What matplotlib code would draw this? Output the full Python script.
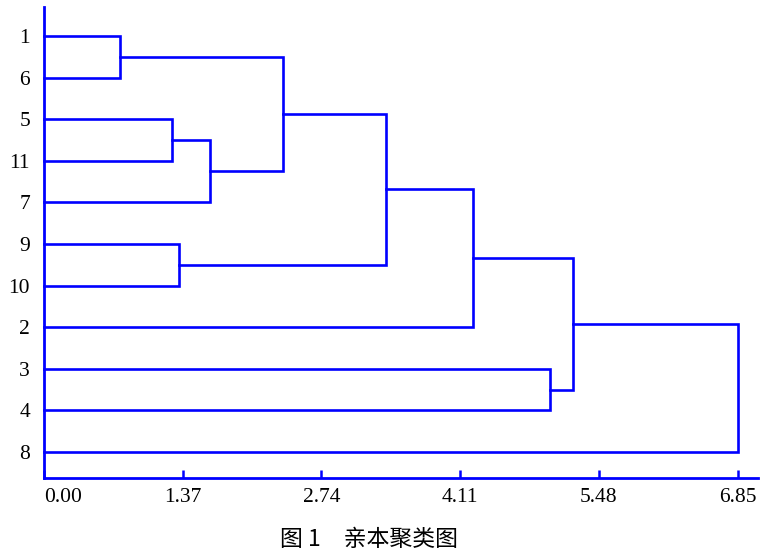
import matplotlib.pyplot as plt

# leaf order, top to bottom
leaves = ["1", "6", "5", "11", "7", "9", "10", "2", "3", "4", "8"]

# merges: (left cluster, right cluster, distance)
# clusters are leaf labels or indices "c0", "c1", ... of earlier merges
merges = [
    ("1", "6", 0.75),
    ("5", "11", 1.26),
    ("c1", "7", 1.64),
    ("9", "10", 1.33),
    ("c0", "c2", 2.36),
    ("c4", "c3", 3.38),
    ("c5", "2", 4.24),
    ("3", "4", 5.00),
    ("c6", "c7", 5.22),
    ("c8", "8", 6.85),
]

tick_vals = [0.00, 1.37, 2.74, 4.11, 5.48, 6.85]
tick_labels = ["0.00", "1.37", "2.74", "4.11", "5.48", "6.85"]
caption = "图 1　亲本聚类图"

blue = "#0000ff"

fig = plt.figure(figsize=(7.73, 5.52), dpi=100)
ax = fig.add_axes([44 / 773, 1 - 478 / 552, (758 - 44) / 773, (478 - 7) / 552])

# position of each cluster: (x = height, y = row)
pos = {name: (0.0, i) for i, name in enumerate(leaves)}
for k, (a, b, h) in enumerate(merges):
    xa, ya = pos[a]
    xb, yb = pos[b]
    ax.plot([xa, h, h, xb], [ya, ya, yb, yb], color=blue, lw=1.9,
            solid_joinstyle="miter", clip_on=False)
    pos["c%d" % k] = (h, (ya + yb) / 2)

ax.set_xlim(0, 7.05)
ax.set_ylim(10.625, -0.70)

for s in ["top", "right"]:
    ax.spines[s].set_visible(False)
for s in ["left", "bottom"]:
    ax.spines[s].set_color(blue)
    ax.spines[s].set_linewidth(2.0)

ax.set_yticks(range(len(leaves)))
ax.set_yticklabels(leaves, fontfamily="Liberation Serif", fontsize=15.5)
ax.tick_params(axis="y", length=0, pad=10)

ax.set_xticks(tick_vals)
ax.set_xticklabels(tick_labels, fontfamily="Liberation Serif", fontsize=15.5)
ax.tick_params(axis="x", direction="in", length=6, width=1.8, color=blue, pad=7)
ax.get_xticklabels()[0].set_horizontalalignment("left")

fig.text(369 / 773, 1 - 540 / 552, caption, ha="center", va="center",
         fontsize=16.5, fontweight="medium",
         family=["Noto Sans CJK SC", "DejaVu Sans"])

fig.savefig("out.png", dpi=100)
